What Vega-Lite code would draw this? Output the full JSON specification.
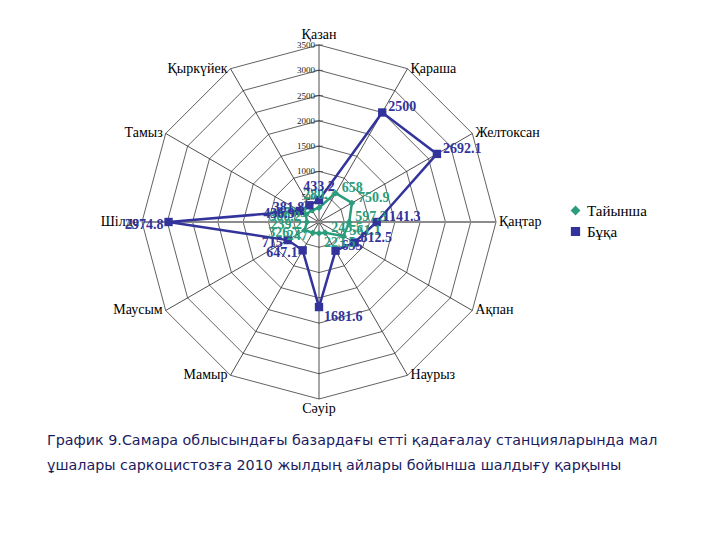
{
  "$schema": "https://vega.github.io/schema/vega-lite/v6.json",
  "width": 720,
  "height": 420,
  "padding": {"left": 0, "top": 0, "right": 0, "bottom": 120},
  "autosize": {"type": "none"},
  "background": "white",
  "config": {"view": {"stroke": null}},
  "title": {
    "text": ["График 9.Самара облысындағы базардағы етті қадағалау станцияларында мал", "ұшалары саркоцистозға 2010 жылдың айлары бойынша шалдығу қарқыны"],
    "orient": "bottom",
    "anchor": "start",
    "frame": "group",
    "dx": 47,
    "offset": 14,
    "font": "DejaVu Sans",
    "fontSize": 14.3,
    "fontWeight": "normal",
    "color": "#1c1c5e",
    "lineHeight": 25
  },
  "datasets": {
    "months": [
      {"month": "Қазан", "i": 0},
      {"month": "Қараша", "i": 1},
      {"month": "Желтоксан", "i": 2},
      {"month": "Қаңтар", "i": 3},
      {"month": "Ақпан", "i": 4},
      {"month": "Наурыз", "i": 5},
      {"month": "Сәуір", "i": 6},
      {"month": "Мамыр", "i": 7},
      {"month": "Маусым", "i": 8},
      {"month": "Шілде", "i": 9},
      {"month": "Тамыз", "i": 10},
      {"month": "Қыркүйек", "i": 11}
    ],
    "grid": [
      {"level": 500, "i": [0,1,2,3,4,5,6,7,8,9,10,11]},
      {"level": 1000, "i": [0,1,2,3,4,5,6,7,8,9,10,11]},
      {"level": 1500, "i": [0,1,2,3,4,5,6,7,8,9,10,11]},
      {"level": 2000, "i": [0,1,2,3,4,5,6,7,8,9,10,11]},
      {"level": 2500, "i": [0,1,2,3,4,5,6,7,8,9,10,11]},
      {"level": 3000, "i": [0,1,2,3,4,5,6,7,8,9,10,11]},
      {"level": 3500, "i": [0,1,2,3,4,5,6,7,8,9,10,11]}
    ],
    "series": [
      {"series": "Тайынша", "month": "Қазан", "i": 0, "v": 280.7},
      {"series": "Тайынша", "month": "Қараша", "i": 1, "v": 658},
      {"series": "Тайынша", "month": "Желтоксан", "i": 2, "v": 750.9},
      {"series": "Тайынша", "month": "Қаңтар", "i": 3, "v": 597.3},
      {"series": "Тайынша", "month": "Ақпан", "i": 4, "v": 561.1},
      {"series": "Тайынша", "month": "Наурыз", "i": 5, "v": 243.5},
      {"series": "Тайынша", "month": "Сәуір", "i": 6, "v": 223.5},
      {"series": "Тайынша", "month": "Мамыр", "i": 7, "v": 247},
      {"series": "Тайынша", "month": "Маусым", "i": 8, "v": 326.7},
      {"series": "Тайынша", "month": "Шілде", "i": 9, "v": 239.2},
      {"series": "Тайынша", "month": "Тамыз", "i": 10, "v": 300.2},
      {"series": "Тайынша", "month": "Қыркүйек", "i": 11, "v": 270.3},
      {"series": "Бұқа", "month": "Қазан", "i": 0, "v": 433.2},
      {"series": "Бұқа", "month": "Қараша", "i": 1, "v": 2500},
      {"series": "Бұқа", "month": "Желтоксан", "i": 2, "v": 2692.1},
      {"series": "Бұқа", "month": "Қаңтар", "i": 3, "v": 1141.3},
      {"series": "Бұқа", "month": "Ақпан", "i": 4, "v": 812.5},
      {"series": "Бұқа", "month": "Наурыз", "i": 5, "v": 655},
      {"series": "Бұқа", "month": "Сәуір", "i": 6, "v": 1681.6},
      {"series": "Бұқа", "month": "Мамыр", "i": 7, "v": 647.1},
      {"series": "Бұқа", "month": "Маусым", "i": 8, "v": 715},
      {"series": "Бұқа", "month": "Шілде", "i": 9, "v": 2974.8},
      {"series": "Бұқа", "month": "Тамыз", "i": 10, "v": 436.9},
      {"series": "Бұқа", "month": "Қыркүйек", "i": 11, "v": 381.8}
    ]
  },
  "layer": [
    {
      "data": {"name": "grid"},
      "transform": [
        {"flatten": ["i"]},
        {"calculate": "datum.level * sin(datum.i * PI / 6)", "as": "x"},
        {"calculate": "datum.level * cos(datum.i * PI / 6)", "as": "y"}
      ],
      "mark": {"type": "line", "interpolate": "linear-closed", "color": "#3a3a3a", "strokeWidth": 0.8},
      "encoding": {
        "x": {"field": "x", "type": "quantitative", "scale": {"domain": [-6307, 7928], "nice": false, "zero": false}, "axis": null},
        "y": {"field": "y", "type": "quantitative", "scale": {"domain": [-3915, 4389], "nice": false, "zero": false}, "axis": null},
        "detail": {"field": "level"},
        "order": {"field": "i", "type": "quantitative"}
      }
    },
    {
      "data": {"name": "months"},
      "transform": [
        {"filter": "datum.i != 3 && datum.i != 9"},
        {"calculate": "3500 * sin(datum.i * PI / 6)", "as": "x"},
        {"calculate": "3500 * cos(datum.i * PI / 6)", "as": "y"},
        {"calculate": "0", "as": "o"}
      ],
      "mark": {"type": "rule", "color": "#222", "strokeWidth": 0.8},
      "encoding": {
        "x": {"field": "x", "type": "quantitative"},
        "y": {"field": "y", "type": "quantitative"},
        "x2": {"field": "o"},
        "y2": {"field": "o"}
      }
    },
    {
      "data": {"name": "months"},
      "transform": [
        {"filter": "datum.i == 3 || datum.i == 9"},
        {"calculate": "3500 * sin(datum.i * PI / 6)", "as": "x"},
        {"calculate": "3500 * cos(datum.i * PI / 6)", "as": "y"},
        {"calculate": "0", "as": "o"}
      ],
      "mark": {"type": "rule", "color": "#8c8c8c", "strokeWidth": 2},
      "encoding": {
        "x": {"field": "x", "type": "quantitative"},
        "y": {"field": "y", "type": "quantitative"},
        "x2": {"field": "o"},
        "y2": {"field": "o"}
      }
    },
    {
      "data": {"name": "grid"},
      "transform": [{"calculate": "0", "as": "x"}],
      "mark": {"type": "tick", "orient": "horizontal", "color": "#222", "size": 8, "thickness": 0.8},
      "encoding": {
        "x": {"field": "x", "type": "quantitative"},
        "y": {"field": "level", "type": "quantitative"}
      }
    },
    {
      "data": {"name": "grid"},
      "transform": [{"calculate": "0", "as": "x"}],
      "mark": {"type": "text", "align": "right", "baseline": "middle", "dx": -4, "font": "Liberation Serif", "fontSize": 9, "color": "#222"},
      "encoding": {
        "x": {"field": "x", "type": "quantitative"},
        "y": {"field": "level", "type": "quantitative"},
        "text": {"field": "level", "type": "quantitative", "format": "d"}
      }
    },
    {
      "data": {"name": "months"},
      "transform": [
        {"filter": "datum.i == 0"},
        {"calculate": "3500 * sin(datum.i * PI / 6)", "as": "x"},
        {"calculate": "3500 * cos(datum.i * PI / 6)", "as": "y"}
      ],
      "mark": {"type": "text", "align": "center", "baseline": "bottom", "dy": -3, "font": "Liberation Serif", "fontSize": 14, "color": "#000"},
      "encoding": {
        "x": {"field": "x", "type": "quantitative"},
        "y": {"field": "y", "type": "quantitative"},
        "text": {"field": "month"}
      }
    },
    {
      "data": {"name": "months"},
      "transform": [
        {"filter": "datum.i >= 1 && datum.i <= 5"},
        {"calculate": "3500 * sin(datum.i * PI / 6)", "as": "x"},
        {"calculate": "3500 * cos(datum.i * PI / 6)", "as": "y"}
      ],
      "mark": {"type": "text", "align": "left", "baseline": "middle", "dx": 3, "font": "Liberation Serif", "fontSize": 14, "color": "#000"},
      "encoding": {
        "x": {"field": "x", "type": "quantitative"},
        "y": {"field": "y", "type": "quantitative"},
        "text": {"field": "month"}
      }
    },
    {
      "data": {"name": "months"},
      "transform": [
        {"filter": "datum.i == 6"},
        {"calculate": "3500 * sin(datum.i * PI / 6)", "as": "x"},
        {"calculate": "3500 * cos(datum.i * PI / 6)", "as": "y"}
      ],
      "mark": {"type": "text", "align": "center", "baseline": "top", "dy": 3, "font": "Liberation Serif", "fontSize": 14, "color": "#000"},
      "encoding": {
        "x": {"field": "x", "type": "quantitative"},
        "y": {"field": "y", "type": "quantitative"},
        "text": {"field": "month"}
      }
    },
    {
      "data": {"name": "months"},
      "transform": [
        {"filter": "datum.i >= 7"},
        {"calculate": "3500 * sin(datum.i * PI / 6)", "as": "x"},
        {"calculate": "3500 * cos(datum.i * PI / 6)", "as": "y"}
      ],
      "mark": {"type": "text", "align": "right", "baseline": "middle", "dx": -3, "font": "Liberation Serif", "fontSize": 14, "color": "#000"},
      "encoding": {
        "x": {"field": "x", "type": "quantitative"},
        "y": {"field": "y", "type": "quantitative"},
        "text": {"field": "month"}
      }
    },
    {
      "data": {"name": "series"},
      "transform": [
        {"calculate": "datum.v * sin(datum.i * PI / 6)", "as": "x"},
        {"calculate": "datum.v * cos(datum.i * PI / 6)", "as": "y"}
      ],
      "layer": [
        {
          "mark": {"type": "line", "interpolate": "linear-closed", "strokeWidth": 2.5},
          "encoding": {
            "x": {"field": "x", "type": "quantitative"},
            "y": {"field": "y", "type": "quantitative"},
            "color": {"field": "series", "type": "nominal", "scale": {"domain": ["Тайынша", "Бұқа"], "range": ["#2a9d7c", "#33339c"]}, "legend": {"orient": "none", "legendX": 568, "legendY": 203, "title": null, "labelFont": "Liberation Serif", "labelFontSize": 15, "labelColor": "#000", "symbolSize": 60, "rowPadding": 5}},
            "shape": {"field": "series", "type": "nominal", "scale": {"domain": ["Тайынша", "Бұқа"], "range": ["diamond", "square"]}, "legend": {"orient": "none", "legendX": 568, "legendY": 203, "title": null, "labelFont": "Liberation Serif", "labelFontSize": 15, "labelColor": "#000", "symbolSize": 60, "rowPadding": 5}},
            "order": {"field": "i", "type": "quantitative"}
          }
        },
        {
          "mark": {"type": "point", "filled": true, "opacity": 1},
          "encoding": {
            "x": {"field": "x", "type": "quantitative"},
            "y": {"field": "y", "type": "quantitative"},
            "color": {"field": "series", "type": "nominal"},
            "shape": {"field": "series", "type": "nominal"},
            "size": {"condition": {"test": "datum.series == 'Бұқа'", "value": 70}, "value": 45}
          }
        },
        {
          "transform": [{"filter": "datum.i == 0"}],
          "mark": {"type": "text", "align": "center", "baseline": "bottom", "dy": -6, "font": "Liberation Serif", "fontSize": 14, "fontWeight": "bold"},
          "encoding": {
            "x": {"field": "x", "type": "quantitative"},
            "y": {"field": "y", "type": "quantitative"},
            "color": {"field": "series", "type": "nominal"},
            "text": {"field": "v", "type": "quantitative", "format": ".5~"}
          }
        },
        {
          "transform": [{"filter": "datum.i >= 1 && datum.i <= 5"}],
          "mark": {"type": "text", "align": "left", "baseline": "middle", "dx": 6, "dy": -5, "font": "Liberation Serif", "fontSize": 14, "fontWeight": "bold"},
          "encoding": {
            "x": {"field": "x", "type": "quantitative"},
            "y": {"field": "y", "type": "quantitative"},
            "color": {"field": "series", "type": "nominal"},
            "text": {"field": "v", "type": "quantitative", "format": ".5~"}
          }
        },
        {
          "transform": [{"filter": "datum.i == 6"}],
          "mark": {"type": "text", "align": "left", "baseline": "middle", "dx": 5, "dy": 10, "font": "Liberation Serif", "fontSize": 14, "fontWeight": "bold"},
          "encoding": {
            "x": {"field": "x", "type": "quantitative"},
            "y": {"field": "y", "type": "quantitative"},
            "color": {"field": "series", "type": "nominal"},
            "text": {"field": "v", "type": "quantitative", "format": ".5~"}
          }
        },
        {
          "transform": [{"filter": "datum.i >= 7"}],
          "mark": {"type": "text", "align": "right", "baseline": "middle", "dx": -5, "dy": 3, "font": "Liberation Serif", "fontSize": 14, "fontWeight": "bold"},
          "encoding": {
            "x": {"field": "x", "type": "quantitative"},
            "y": {"field": "y", "type": "quantitative"},
            "color": {"field": "series", "type": "nominal"},
            "text": {"field": "v", "type": "quantitative", "format": ".5~"}
          }
        }
      ]
    }
  ]
}
